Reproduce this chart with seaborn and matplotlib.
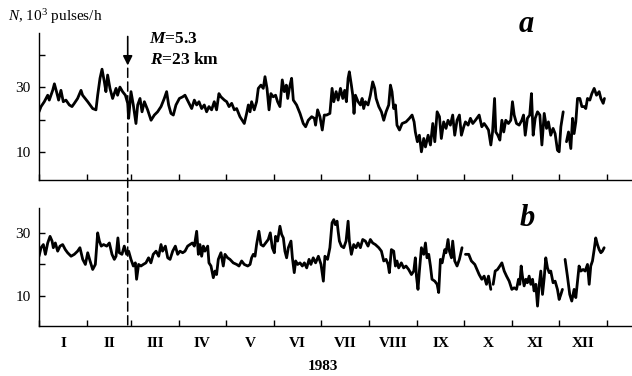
import numpy as np
import pandas as pd
import matplotlib
matplotlib.use('Agg')
import matplotlib.pyplot as plt
from matplotlib.patches import ConnectionPatch
import seaborn as sns

# day of 1983 (0 = 1 Jan) and count rate N, 10^3 pulses/h; nan marks a gap in the record
top_day = [0, 1.3, 3.4, 5.6, 6.6, 8.8, 9.9, 11.3, 12.6, 14.1,
           15.6, 17.3, 19.5, 21.2, 22.7, 24.8, 27, 28, 31.3, 34.5,
           36.6, 37.7, 39.2, 40.5, 42, 43, 44.1, 45.6, 47.3, 49.5,
           50.5, 52, 53.7, 55.5, 57, 57.6, 59.1, 60.6, 62.3, 63.4,
           64.9, 66.2, 67.7, 69.8, 72, 74.1, 76.2, 78.4, 80.5, 82,
           83.3, 84.8, 86.3, 88, 90.2, 92.3,
           93.8, 95.9, 98.1, 99.8, 101.3, 102.8, 104.5, 106.2, 107.7, 109.2,
           110.9, 112.6, 114.1, 115.6, 116.9, 119.1, 120.6, 122.1, 123.8, 125.5,
           127, 129.1, 130.6, 131.9, 133.4, 134.5, 135.6, 136.6, 138.3, 139.8,
           140.9, 142.6, 144.1, 145.2, 146.5, 147.8, 149, 150.5, 152, 153.3,
           154.8, 156.3, 157.6, 158.9, 159.8, 161, 162.3, 163.4, 165.5, 167.7,
           169.8, 171.3, 173, 175.2, 176.9, 177.7, 179, 180.5, 182, 183.3,
           184.8, 186.9,
           188.3, 189.4, 190.9, 192.2, 193.7, 195.2, 196.4, 197.5, 198.6, 199.4,
           200.7, 201.6, 202.4, 203.3, 205, 206.5, 207.6, 208.6, 209.7, 211.4,
           212.9, 214.4, 215.7, 216.6, 218.3, 220, 221.5, 223, 224.7, 225.8,
           226.8, 227.9, 229, 230, 231.6, 233.3, 235.8, 238, 239.7, 241,
           241.8, 243.1, 244.4, 245.7, 247.2, 248.3, 250, 251.5, 253, 254.3,
           255.8, 257.3, 258.5, 260, 261.5, 262.8, 264.3, 265.8, 267.1, 268.6,
           270.1, 271.4, 272.9, 274, 275.7, 277.2, 278.7, 280.4,
           282.8, 284.5, 286, 287.5, 288.8, 290.3, 291.4, 292.7, 293.5, 294.8,
           296.1, 297.4, 298.6, 299.9, 301.6, 303.1, 304.2, 305.3, 306.8, 308.5,
           310.2, 311.3, 312.4, 313.8, 315.3, 316.4, 317.5, 318.8, 320.3, 321.8,
           323.1, 324.6, 326.1, 327.3, 328.8, 330.3, 331.6, 333.1, 334.2, 335.3,
           336.8, np.nan,
           338.9, 340.2, 341.7, 342.8, 343.8, 344.9, 346, 347.5, 348.8, 350.3,
           351.3, 352.4, 353.9, 355.2, 356.7, 358.2, 359.9, 361, 362.5, 363.3]
top_n = [22.4, 24, 25.5, 27.5, 26, 29, 31, 28.5, 26, 29,
         25.5, 26, 24.5, 24, 25, 26.5, 29, 27.5, 25.5, 23.4,
         23, 27.5, 32.7, 35.5, 31.6, 28.6, 33.7, 29.6, 26.5, 29.6,
         27.5, 30, 28.6, 27.5, 25, 20.4, 28.6, 24.5, 18.8, 24.5,
         26.5, 22.4, 25.5, 23, 19.8, 21.4, 22.4, 24, 26.5, 28.6,
         24.5, 21.9, 21.4, 24.5, 26.5, 27,
         27.5, 25.5, 23.4, 26, 24.5, 25.5, 23.4, 24.5, 22.4, 24,
         23, 25.5, 23, 28, 27, 26, 25.5, 24, 25, 23,
         23.4, 20.9, 19.8, 18.8, 21.9, 24.5, 22.4, 25.5, 23, 25.5,
         29.6, 30.6, 29.6, 33.2, 29.6, 23, 28, 27, 27.5, 25.5,
         24, 32.2, 28.6, 30.6, 26.5, 30, 32.7, 26, 24.5, 21.9,
         18.8, 17.8, 19.8, 20.9, 20.4, 18.3, 23, 20.9, 16.8, 21.4,
         21.4, 21.9,
         29.6, 25.5, 28.6, 26, 29.6, 26.5, 29, 25.5, 32.7, 34.7,
         30.6, 27.5, 21.9, 27.5, 25.5, 24.5, 26.5, 23.4, 25.5, 24.5,
         27.5, 31.6, 29.6, 26.5, 24, 22.4, 19.8, 22.4, 24.5, 30.6,
         28.6, 23.4, 24.5, 18.3, 16.8, 18.8, 19.3, 20.4, 21.4, 19.3,
         16.2, 13.2, 15.2, 10.1, 14.2, 11.6, 15.2, 12.2, 18.8, 13.2,
         22.4, 20.9, 14.2, 19.3, 17.3, 19.8, 18.3, 21.4, 15.2, 19.8,
         21.4, 15.2, 17.8, 19.3, 18.3, 20.4, 18.8, 19.8,
         21.4, 17.8, 18.8, 17.8, 16.8, 12.2, 16.2, 26.5, 16.2, 15.2,
         13.7, 19.8, 16.2, 19.8, 18.8, 19.8, 25.5, 21.4, 18.8, 18.3,
         19.8, 21.4, 15.2, 20.4, 21.4, 28, 15.2, 20.4, 22.4, 21.4,
         12.2, 21.9, 17.3, 19.3, 15.2, 17.3, 15.7, 10.6, 10.1, 17.8,
         22.4, np.nan,
         13.2, 16.2, 11.1, 20.4, 15.7, 19.3, 26.5, 26.5, 24, 24,
         23.4, 26.5, 26, 28, 29.6, 27.5, 28.6, 26.5, 25, 26.5]

bot_day = [0, 1.3, 2.8, 4.1, 5.6, 7.1, 8.4, 9.2, 10.5, 12,
           13.5, 15.2, 16.9, 18.4, 20.6, 22.7, 24.8, 26.3, 28.1, 29.8,
           31.3, 32.8, 34.5, 36.2, 37.7, 38.8, 40, 41.5, 43.5, 45.2,
           46.9, 48.4, 49.5, 50.7, 51.6, 53.3, 54.8, 56.3, 57.6, 59.1,
           60.6, 61.9, 62.7, 64, 65.5, 67, 68.7, 70.4, 71.9, 73.4,
           75.2, 76.9, 78.4, 79.4, 81.2, 82.7, 84.2, 85.9, 87.6, 89.1,
           90.6, 92.3,
           93.8, 95.5, 97, 98.5, 99.8, 101.3, 102.4, 103.4, 104.5, 105.6,
           106.6, 108.4, 109.2, 110.5, 112, 113.1, 114.1, 115.2, 116.9, 118.4,
           119.5, 121.2, 122.7, 124.8, 127, 128.5, 130.2, 131.9, 134.1, 135.6,
           136.6, 137.7, 138.8, 139.8, 141.3, 142.6, 144.1, 145.6, 147.3, 148.6,
           149.9, 151.2, 152, 153.3, 154.8, 155.9, 157, 158, 159.1, 160.2,
           161.9, 162.8, 164, 164.9, 166.2, 167.7, 169.2, 170.5, 172, 173.5,
           174.7, 176.2, 177.7, 179.5, 181.2, 182.7, 183.7, 185.4, 186.9,
           188.3, 189.4, 190.4, 191.5, 192.2, 193, 194.3, 195.8, 197.3, 198.6,
           199.4, 200.7, 202.2, 203.7, 205, 206.5, 208, 209.7, 211.4, 212.9,
           214.4, 216.1, 218.3, 220, 221.5, 223, 224.3, 225.1, 226.4, 227.9,
           229, 230, 231.1, 232.8, 234.3, 235.8, 237.5, 239.3, 240.8, 241.8,
           242.5, 243.5, 244.4, 245.7, 247.2, 248.3, 249.3, 250.4, 251.5, 252.5,
           254.3, 255.8, 256.8, 257.9, 259, 260.7, 261.5, 262.8, 263.7, 265,
           265.8, 267.1, 268.6, 270.1, 271.8, np.nan,
           274, 276.1, 277.8, 280, 281.4,
           282.8, 284.5, 286, 287.5, 288.8, 290.3, np.nan,
           291.8, 293.1, 294.6, 296.1, 297.4, 298.9, 300.4, 302.1, 303.8, 305.3,
           306.8, 308.1, 308.9, 309.8, 310.6, 311.7, 312.8, 313.8, 314.9, 316,
           317.1, 318.1, 319.2, 320.3, 321.3, 322.4, 323.5, 324.6, 325.6, 326.7,
           327.8, 328.8, 330.3, 331.6, 333.1, 334.2, 335.3, 336.3, np.nan,
           338, 339.5, 341, 342.3, 343.8, 344.9, 346, 347, 348.1, 349.6,
           350.9, 352.4, 353.5, 354.5, 355.6, 356.7, 357.7, 358.8, 359.9, 361,
           362, 363.1]
bot_n = [22.6, 25.3, 26.3, 23.2, 26.8, 28.9, 27.4, 25.3, 26.8, 24.2,
         25.8, 26.3, 24.7, 23.7, 22.6, 23.2, 24.2, 25.3, 21.6, 20,
         23.7, 21.1, 18.4, 20, 30, 27.4, 25.8, 26.3, 25.8, 26.8,
         23.2, 21.6, 22.6, 28.4, 23.7, 23.2, 25.8, 23.2, 24.2, 21.6,
         19.5, 20.5, 15.3, 20, 19.5, 20, 20.5, 22.1, 20.5, 23.2,
         24.2, 22.6, 26.3, 24.2, 25.8, 22.1, 21.6, 24.2, 25.8, 23.2,
         24.2, 23.7,
         24.2, 25.8, 26.3, 26.8, 25.8, 30.5, 23.2, 26.3, 22.6, 25.8,
         24.2, 25.8, 20.5, 19.5, 15.8, 17.9, 16.8, 21.6, 23.7, 19.5,
         23.2, 22.1, 21.6, 20.5, 20, 19.5, 21.1, 20, 19.5, 20,
         22.1, 23.2, 22.6, 26.3, 30.5, 26.3, 25.8, 26.8, 27.9, 30,
         25.3, 23.7, 28.9, 27.4, 32.1, 29.5, 28.4, 24.2, 22.1, 25.3,
         27.4, 22.1, 17.4, 21.1, 20, 20.5, 19.5, 20.5, 18.9, 21.6,
         20, 22.1, 20.5, 22.6, 20, 14.7, 22.6, 21.6, 25.3,
         33.2, 34.2, 32.6, 33.7, 30.5, 27.4, 25.8, 25.3, 27.4, 33.7,
         27.4, 23.2, 26.3, 25.3, 26.8, 25.3, 27.9, 27.4, 25.8, 27.9,
         26.8, 26.3, 25.3, 24.2, 21.1, 21.6, 20, 17.4, 24.7, 24.2,
         19.5, 21.1, 18.9, 20.5, 18.9, 19.5, 18.4, 16.8, 17.9, 22.1,
         16.3, 12.1, 17.9, 25.3, 23.2, 26.8, 22.1, 23.2, 19.5, 15.3,
         14.7, 13.7, 11.1, 21.6, 20.5, 24.7, 23.7, 27.9, 24.2, 22.1,
         27.4, 21.1, 19.5, 21.6, 25.3, np.nan,
         23.2, 23.2, 21.1, 20, 18.4,
         16.8, 15.3, 16.3, 13.7, 16.3, 12.1, np.nan,
         13.7, 17.9, 18.4, 19.5, 20.5, 17.9, 16.3, 14.7, 12.1, 12.6,
         12.1, 15.3, 13.7, 19.5, 16.3, 13.2, 15.3, 14.2, 16.3, 13.7,
         15.3, 11.6, 13.7, 6.8, 13.2, 17.9, 10.5, 15.8, 22.1, 18.9,
         17.4, 17.9, 14.2, 14.7, 12.1, 8.9, 10.5, 12.1, np.nan,
         21.6, 16.3, 10.5, 8.4, 12.1, 9.5, 14.7, 19.5, 17.9, 18.4,
         17.9, 20, 13.7, 19.5, 21.1, 24.7, 28.4, 26.3, 24.7, 23.7,
         24.2, 25.3]

month_starts = [0, 31, 59, 90, 120, 151, 181, 212, 243, 273, 304, 334, 365]
month_names = ['I', 'II', 'III', 'IV', 'V', 'VI', 'VII', 'VIII', 'IX', 'X', 'XI', 'XII']
quake_day = 57


def frame(days, vals):
    df = pd.DataFrame({'day': days, 'N': vals})
    df['seg'] = df['N'].isna().cumsum()
    return df.dropna()


sns.set_style('ticks')
plt.rcParams['font.family'] = ['Liberation Serif', 'DejaVu Serif']
plt.rcParams['mathtext.fontset'] = 'custom'
plt.rcParams['mathtext.rm'] = 'Liberation Serif'
plt.rcParams['mathtext.it'] = 'Liberation Serif:italic'
plt.rcParams['mathtext.bf'] = 'Liberation Serif:bold'
plt.rcParams['mathtext.bfit'] = 'Liberation Serif:italic:bold'
for key in ['text.color', 'axes.labelcolor', 'axes.edgecolor', 'xtick.color', 'ytick.color']:
    plt.rcParams[key] = 'black'

fig = plt.figure(figsize=(6.32, 3.76), dpi=100)
ax1 = fig.add_axes([0.0617, 0.521, 0.9383, 0.391])
ax2 = fig.add_axes([0.0617, 0.133, 0.9383, 0.314])

for ax, d, v, ylim in [(ax1, top_day, top_n, (1.4, 46.6)), (ax2, bot_day, bot_n, (0.5, 37.9))]:
    sns.lineplot(data=frame(d, v), x='day', y='N', units='seg', estimator=None,
                 color='k', lw=2.0, ax=ax, legend=False)
    ax.set_xlim(0, 381)
    ax.set_ylim(*ylim)
    ax.set_xlabel('')
    ax.set_ylabel('')
    sns.despine(ax=ax)
    for s in ax.spines.values():
        s.set_linewidth(1.0)
        s.set_color('black')
    ax.set_xticks(month_starts)
    ax.set_xticklabels([''] * len(month_starts))
    ax.tick_params(axis='both', which='major', direction='in', length=4, width=1,
                   labelsize=11, pad=6, colors='black')

ax1.set_yticks([10, 20, 30, 40])
ax1.set_yticklabels(['10', '', '30', ''])
ax2.set_yticks([10, 20, 30])
ax2.set_yticklabels(['10', '', '30'])

mids = [(a + b) / 2 for a, b in zip(month_starts[:-1], month_starts[1:])]
ax2.set_xticks(mids, minor=True)
ax2.set_xticklabels(month_names, minor=True, fontweight='bold', fontsize=11)
ax2.tick_params(axis='x', which='minor', length=0, pad=8, colors='black')
ax2.text(182.5, -0.29, '1983', transform=ax2.get_xaxis_transform(), ha='center', va='top',
         fontsize=11, fontweight='bold')

# event marker: arrow plus dashed line through both panels
ax1.annotate('', xy=(quake_day, 35.8), xytext=(quake_day, 46.4), annotation_clip=False,
             arrowprops=dict(arrowstyle='-|>', color='k', lw=1.2, mutation_scale=14))
con = ConnectionPatch(xyA=(quake_day, 35.8), coordsA=ax1.transData,
                      xyB=(quake_day, 0.5), coordsB=ax2.transData,
                      color='k', lw=1.1, linestyle=(0, (6, 3)))
fig.add_artist(con)

fig.text(0.236, 0.896, r'$\mathbfit{M}$=5.3', fontsize=12.5, fontweight='bold', va='center')
fig.text(0.238, 0.840, r'$\mathbfit{R}$=23 km', fontsize=12.5, fontweight='bold', va='center')
fig.text(0.012, 0.944, r'$\mathit{N}$, 10$^3$ pulses/h', fontsize=11, va='baseline')
fig.text(0.832, 0.935, 'a', fontsize=22, fontweight='bold', fontstyle='italic', ha='center', va='center')
fig.text(0.834, 0.418, 'b', fontsize=22, fontweight='bold', fontstyle='italic', ha='center', va='center')

fig.savefig('out.png', dpi=100)
